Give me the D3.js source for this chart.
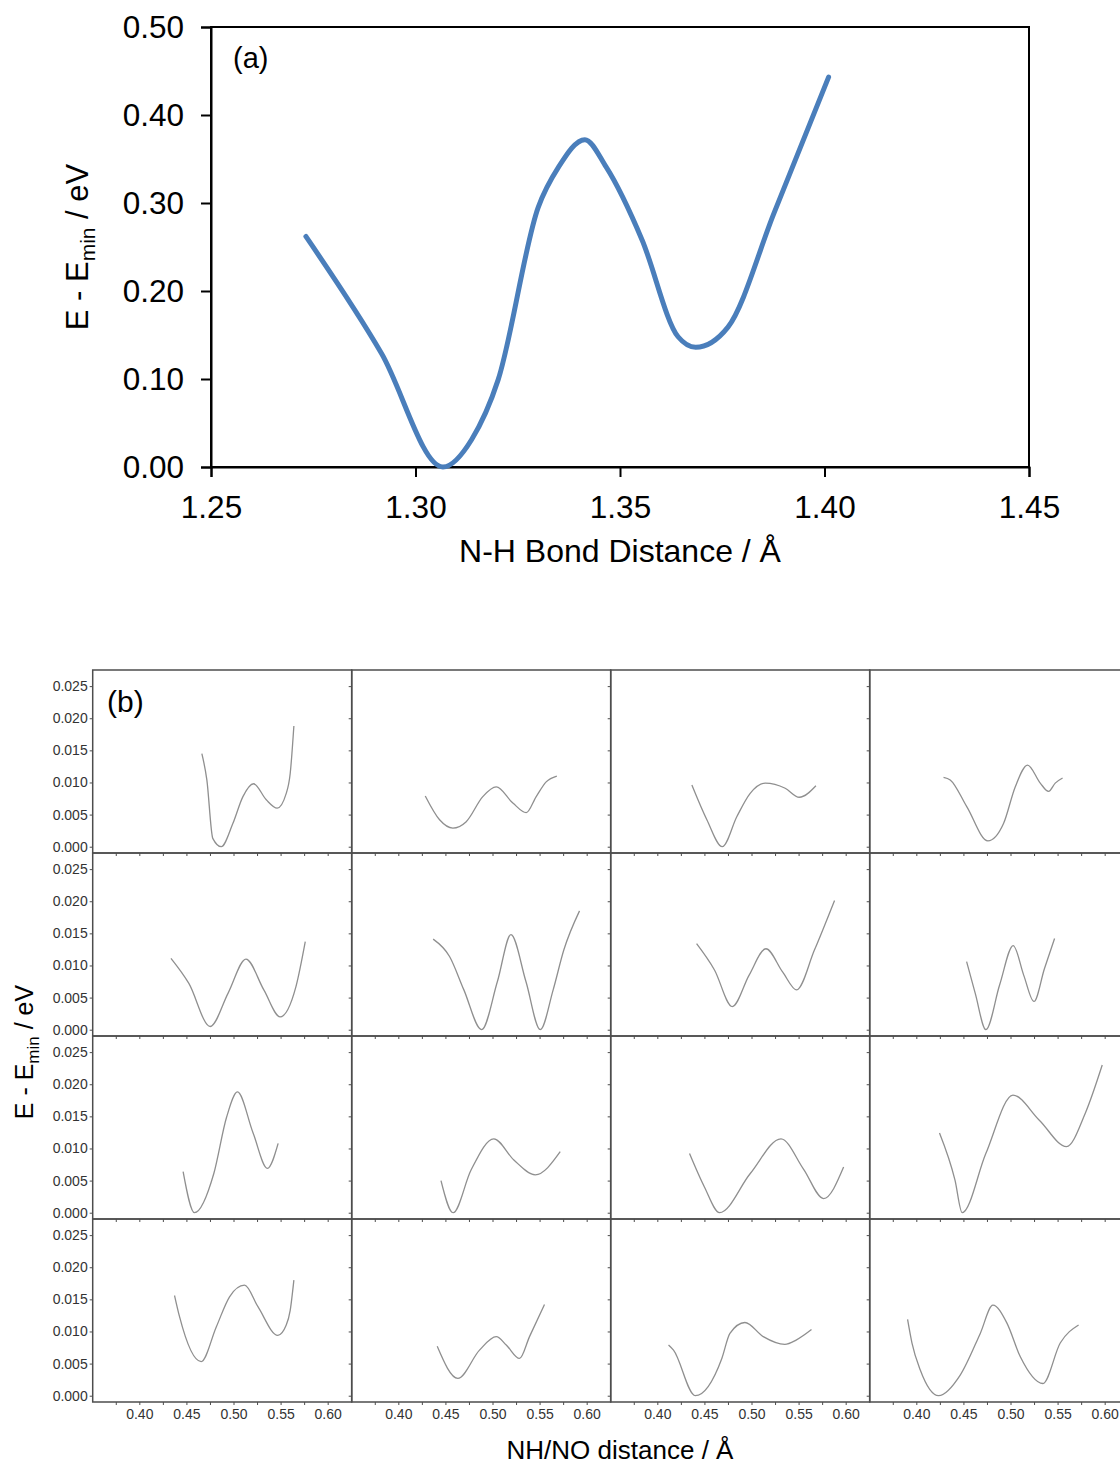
<!DOCTYPE html>
<html><head><meta charset="utf-8">
<script src="https://cdn.jsdelivr.net/npm/d3@7"></script>
<style>
body{margin:0;background:#fff}
text{font-family:"Liberation Sans",Arial,sans-serif}
</style>
</head><body>
<svg id="chart" width="1120" height="1466"></svg>
<script>
// ---------- Panel (a) data ----------
const nhDistance = [1.2732, 1.2917, 1.3067, 1.3137, 1.3202, 1.3300, 1.3350, 1.3414, 1.3466, 1.3554, 1.3642, 1.3685, 1.3764, 1.3877, 1.4010];
const nhEnergy   = [0.262, 0.129, 0.000, 0.031, 0.099, 0.295, 0.341, 0.372, 0.341, 0.258, 0.148, 0.136, 0.159, 0.289, 0.443];
const aXTicks = [1.25, 1.30, 1.35, 1.40, 1.45];
const aYTicks = [0.00, 0.10, 0.20, 0.30, 0.40, 0.50];

// ---------- Panel (b) data: [NH/NO distance, E - Emin] ----------
const p11 = [[0.4664,0.0145],[0.4717,0.0104],[0.4780,0.0013],[0.4870,0.0],[0.4993,0.0036],[0.5100,0.0078],[0.5213,0.0098],[0.5348,0.0073],[0.5464,0.0060],[0.5560,0.0083],[0.5602,0.0114],[0.5641,0.0188]];
const p12 = [[0.4286,0.0079],[0.4438,0.0042],[0.4579,0.0029],[0.4721,0.0039],[0.4897,0.0078],[0.5040,0.0093],[0.5216,0.0068],[0.5358,0.0053],[0.5464,0.0078],[0.5570,0.0101],[0.5683,0.0110]];
const p13 = [[0.4367,0.0096],[0.4526,0.0042],[0.4690,0.0],[0.4845,0.0047],[0.4986,0.0083],[0.5146,0.0099],[0.5358,0.0091],[0.5507,0.0077],[0.5684,0.0095]];
const p14 = [[0.4289,0.0108],[0.4360,0.0104],[0.4537,0.0062],[0.4760,0.0009],[0.4926,0.0036],[0.5050,0.0093],[0.5181,0.0127],[0.5316,0.0099],[0.5404,0.0086],[0.5475,0.0099],[0.5553,0.0107]];
const p21 = [[0.4336,0.0111],[0.4526,0.0072],[0.4753,0.0005],[0.4943,0.0057],[0.5132,0.0110],[0.5322,0.0062],[0.5496,0.0020],[0.5663,0.0067],[0.5762,0.0137]];
const p22 = [[0.4370,0.0141],[0.4544,0.0114],[0.4696,0.0062],[0.4885,0.0],[0.5052,0.0075],[0.5196,0.0148],[0.5355,0.0075],[0.5507,0.0],[0.5644,0.0062],[0.5757,0.0124],[0.5924,0.0185]];
const p23 = [[0.4417,0.0134],[0.4607,0.0093],[0.4796,0.0036],[0.4975,0.0085],[0.5153,0.0126],[0.5330,0.0090],[0.5479,0.0062],[0.5668,0.0124],[0.5881,0.0201]];
const p24 = [[0.4534,0.0106],[0.4625,0.0057],[0.4739,0.0],[0.4885,0.0070],[0.5029,0.0131],[0.5140,0.0085],[0.5249,0.0044],[0.5360,0.0095],[0.5468,0.0142]];
const p31 = [[0.4465,0.0064],[0.4586,0.0],[0.4791,0.0061],[0.4927,0.0149],[0.5042,0.0188],[0.5208,0.0124],[0.5360,0.0069],[0.5474,0.0108]];
const p32 = [[0.4453,0.0050],[0.4582,0.0],[0.4771,0.0066],[0.5014,0.0115],[0.5227,0.0082],[0.5454,0.0059],[0.5719,0.0095]];
const p33 = [[0.4342,0.0092],[0.4500,0.0040],[0.4661,0.0],[0.4987,0.0061],[0.5313,0.0115],[0.5552,0.0068],[0.5766,0.0022],[0.5978,0.0071]];
const p34 = [[0.4246,0.0124],[0.4410,0.0051],[0.4487,0.0],[0.4738,0.0092],[0.5026,0.0183],[0.5306,0.0144],[0.5595,0.0103],[0.5794,0.0155],[0.5974,0.0230]];
const p41 = [[0.4374,0.0156],[0.4427,0.0123],[0.4657,0.0053],[0.4817,0.0107],[0.4958,0.0154],[0.5117,0.0172],[0.5258,0.0139],[0.5471,0.0094],[0.5560,0.0110],[0.5602,0.0133],[0.5641,0.0180]];
const p42 = [[0.4413,0.0077],[0.4632,0.0027],[0.4862,0.0071],[0.5040,0.0092],[0.5146,0.0079],[0.5287,0.0058],[0.5393,0.0092],[0.5552,0.0142]];
const p43 = [[0.4119,0.0079],[0.4172,0.0071],[0.4403,0.0],[0.4685,0.0058],[0.4771,0.0097],[0.4930,0.0114],[0.5125,0.0092],[0.5354,0.0080],[0.5478,0.0087],[0.5637,0.0103]];
const p44 = [[0.3907,0.0119],[0.3954,0.0082],[0.4042,0.0040],[0.4237,0.0],[0.4466,0.0032],[0.4679,0.0097],[0.4813,0.0141],[0.4962,0.0113],[0.5103,0.0061],[0.5344,0.0019],[0.5528,0.0082],[0.5723,0.0110]];
const panelsB = [p11,p12,p13,p14,p21,p22,p23,p24,p31,p32,p33,p34,p41,p42,p43,p44];
const bXTicks = [0.40, 0.45, 0.50, 0.55, 0.60];
const bXMinorTicks = [0.375, 0.425, 0.475, 0.525, 0.575];
const bYTicks = [0.000, 0.005, 0.010, 0.015, 0.020, 0.025];

const svg = d3.select('#chart');

// ================= Panel (a) =================
const A = {left: 211, right: 1029, top: 27, bottom: 467};
const xa = d3.scaleLinear().domain([1.25, 1.45]).range([A.left, A.right]);
const ya = d3.scaleLinear().domain([0, 0.5]).range([A.bottom, A.top]);

svg.append('rect').attr('x', A.left).attr('y', A.top)
  .attr('width', A.right - A.left).attr('height', A.bottom - A.top)
  .attr('fill', 'none').attr('stroke', '#000').attr('stroke-width', 2);

const axA_y = svg.append('g').attr('transform', `translate(${A.left},0)`)
  .call(d3.axisLeft(ya).tickValues(aYTicks).tickSize(10).tickPadding(17).tickFormat(d3.format('.2f')));
const axA_x = svg.append('g').attr('transform', `translate(0,${A.bottom})`)
  .call(d3.axisBottom(xa).tickValues(aXTicks).tickSize(10).tickPadding(19).tickFormat(d3.format('.2f')));
[axA_y, axA_x].forEach(g => {
  g.select('.domain').attr('stroke', '#000').attr('stroke-width', 2);
  g.selectAll('.tick line').attr('stroke', '#000').attr('stroke-width', 2);
  g.selectAll('.tick text').attr('fill', '#000').style('font-size', '31.5px')
    .style('font-family', '"Liberation Sans", Arial, sans-serif');
});

const lineA = d3.line().x((d, i) => xa(nhDistance[i])).y(d => ya(d)).curve(d3.curveMonotoneX);
svg.append('path').attr('d', lineA(nhEnergy))
  .attr('fill', 'none').attr('stroke', '#4a7ebb').attr('stroke-width', 5)
  .attr('stroke-linecap', 'round').attr('stroke-linejoin', 'round');

svg.append('text').attr('x', 233).attr('y', 68).style('font-size', '29px').text('(a)');

svg.append('text').attr('x', 620).attr('y', 562).attr('text-anchor', 'middle')
  .style('font-size', '32px').text('N-H Bond Distance / Å');

const ta = svg.append('text').attr('transform', 'translate(88,247) rotate(-90)')
  .attr('text-anchor', 'middle').style('font-size', '31px');
ta.append('tspan').text('E - E');
ta.append('tspan').attr('dy', 7).style('font-size', '21px').text('min');
ta.append('tspan').attr('dy', -7).text(' / eV');

// ================= Panel (b) =================
const B = {left: 92.7, top: 670, pw: 259, ph: 183};
const xb = d3.scaleLinear().domain([0.3505, 0.6255]).range([0, B.pw]);
const yb = d3.scaleLinear().domain([-0.00098, 0.02751]).range([B.ph, 0]);
const lineB = d3.line().x(d => xb(d[0])).y(d => yb(d[1])).curve(d3.curveMonotoneX);
const frameCol = '#4d4d4d';

panelsB.forEach((pts, i) => {
  const r = Math.floor(i / 4), c = i % 4;
  const g = svg.append('g').attr('transform', `translate(${B.left + c * B.pw},${B.top + r * B.ph})`);
  g.append('rect').attr('width', B.pw).attr('height', B.ph)
    .attr('fill', 'none').attr('stroke', frameCol).attr('stroke-width', 1.5);

  const ay = g.append('g').call(d3.axisLeft(yb).tickValues(bYTicks).tickSize(3).tickPadding(2)
    .tickFormat(c === 0 ? d3.format('.3f') : () => ''));
  const ax = g.append('g').attr('transform', `translate(0,${B.ph})`)
    .call(d3.axisBottom(xb).tickValues(bXTicks).tickSize(3).tickPadding(4)
      .tickFormat(r === 3 ? d3.format('.2f') : () => ''));
  const axm = g.append('g').attr('transform', `translate(0,${B.ph})`)
    .call(d3.axisBottom(xb).tickValues(bXMinorTicks).tickSize(3).tickFormat(() => ''));
  [ay, ax, axm].forEach(a => {
    a.select('.domain').remove();
    a.selectAll('.tick line').attr('stroke', frameCol).attr('stroke-width', 1);
    a.selectAll('.tick text').attr('fill', '#333').style('font-size', '14px')
      .style('font-family', '"Liberation Sans", Arial, sans-serif');
  });

  g.append('path').attr('d', lineB(pts))
    .attr('fill', 'none').attr('stroke', '#8f8f8f').attr('stroke-width', 1.3);
});

svg.append('text').attr('x', 107).attr('y', 712).style('font-size', '30px').text('(b)');

svg.append('text').attr('x', 620).attr('y', 1459).attr('text-anchor', 'middle')
  .style('font-size', '26px').text('NH/NO distance / Å');

const tb = svg.append('text').attr('transform', 'translate(33,1052) rotate(-90)')
  .attr('text-anchor', 'middle').style('font-size', '25px');
tb.append('tspan').text('E - E');
tb.append('tspan').attr('dy', 6).style('font-size', '17px').text('min');
tb.append('tspan').attr('dy', -6).text(' / eV');
</script>
</body></html>
